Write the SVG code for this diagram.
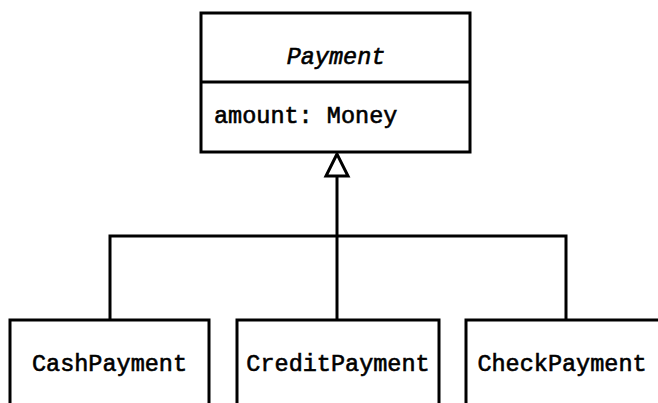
<svg xmlns="http://www.w3.org/2000/svg" width="658" height="403" viewBox="0 0 658 403">
  <style>
    .box { fill: #ffffff; stroke: #000000; stroke-width: 3; }
    .line { fill: none; stroke: #000000; stroke-width: 3; }
    .label { font-family: "Liberation Mono", "Courier New", monospace; font-size: 23.5px; fill: #000000; stroke: #000000; stroke-width: 0.6; }
    .abstract { font-style: italic; }
  </style>
  <rect width="658" height="403" fill="#ffffff"/>

  <!-- generalization connectors -->
  <g id="connectors">
    <line class="line" x1="337" y1="176" x2="337" y2="320"/>
    <polyline class="line" points="110,320 110,236 566,236 566,320"/>
    <polygon class="line" points="337,154 326,176 348,176" style="fill:#ffffff"/>
  </g>

  <!-- abstract superclass -->
  <g id="Payment">
    <rect class="box" x="201" y="13" width="269" height="139"/>
    <line class="line" x1="201" y1="82" x2="470" y2="82"/>
    <text class="label abstract" x="336" y="64" text-anchor="middle">Payment</text>
    <text class="label" x="214" y="123">amount: Money</text>
  </g>

  <!-- subclasses -->
  <g id="CashPayment">
    <rect class="box" x="10" y="320" width="199" height="100"/>
    <text class="label" x="109.5" y="371" text-anchor="middle">CashPayment</text>
  </g>
  <g id="CreditPayment">
    <rect class="box" x="237" y="320" width="202" height="100"/>
    <text class="label" x="338" y="371" text-anchor="middle">CreditPayment</text>
  </g>
  <g id="CheckPayment">
    <rect class="box" x="466" y="320" width="220" height="100"/>
    <text class="label" x="562" y="371" text-anchor="middle">CheckPayment</text>
  </g>
</svg>
